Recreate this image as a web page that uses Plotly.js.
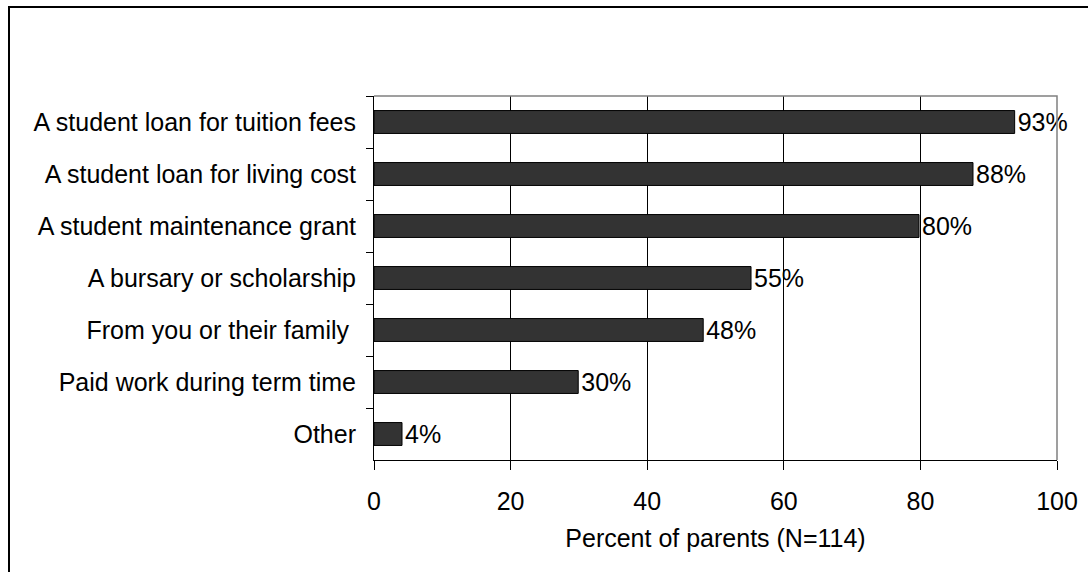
<!DOCTYPE html>
<html>
<head>
<meta charset="utf-8">
<script src="https://cdn.plot.ly/plotly-3.0.1.min.js"></script>
<style>
  html, body { margin: 0; padding: 0; background: #fff; overflow: hidden; }
  #frame {
    position: absolute; left: 8px; top: 6px; width: 1200px; height: 700px;
    border-left: 2px solid #000; border-top: 2px solid #000; pointer-events: none;
  }
  #chart { width: 1088px; height: 572px; }
</style>
</head>
<body>
<div id="chart"></div>
<div id="frame"></div>
<script>
// funding sources, top to bottom as in the chart
const sources = [
    'A student loan for tuition fees',
    'A student loan for living cost',
    'A student maintenance grant',
    'A bursary or scholarship',
    'From you or their family ',
    'Paid work during term time',
    'Other'
];
const percents = [93.8, 87.7, 79.8, 55.2, 48.2, 29.9, 4.1];
const percentLabels = ['93%', '88%', '80%', '55%', '48%', '30%', '4%'];
const xTicks = [0, 20, 40, 60, 80, 100];

const font = { family: 'Liberation Sans, Arial, sans-serif', size: 25, color: '#000' };

const data = [{
    type: 'bar',
    orientation: 'h',
    x: percents,
    y: sources,
    text: percentLabels,
    textposition: 'outside',
    constraintext: 'none',
    textfont: font,
    cliponaxis: false,
    hoverinfo: 'none',
    marker: { color: '#333333', line: { color: '#000', width: 1 } }
}];

const layout = {
    width: 1088,
    height: 572,
    margin: { l: 374, r: 31, t: 96, b: 112 },
    paper_bgcolor: '#fff',
    plot_bgcolor: '#fff',
    font: font,
    showlegend: false,
    bargap: 0.56,
    xaxis: {
        range: [0, 100],
        tickvals: xTicks,
        ticks: 'outside',
        ticklen: 9,
        tickcolor: '#000',
        showline: true,
        linecolor: '#000',
        linewidth: 1,
        showgrid: true,
        gridcolor: '#000',
        gridwidth: 1,
        zeroline: false,
        tickfont: font,
        ticklabelstandoff: 10,
        title: { text: 'Percent of parents (N=114)', font: font, standoff: 15 }
    },
    yaxis: {
        autorange: 'reversed',
        ticks: 'outside',
        tickson: 'boundaries',
        ticklen: 7,
        tickcolor: '#000',
        showline: true,
        linecolor: '#000',
        linewidth: 1,
        showgrid: false,
        zeroline: false,
        tickfont: font,
        ticklabelstandoff: 12
    },
    shapes: [{
        type: 'path',
        xref: 'paper',
        yref: 'paper',
        path: 'M0,1 L1,1 L1,0',
        line: { color: '#808080', width: 1.5 },
        layer: 'above'
    }]
};

Plotly.newPlot('chart', data, layout, { staticPlot: true });
</script>
</body>
</html>
